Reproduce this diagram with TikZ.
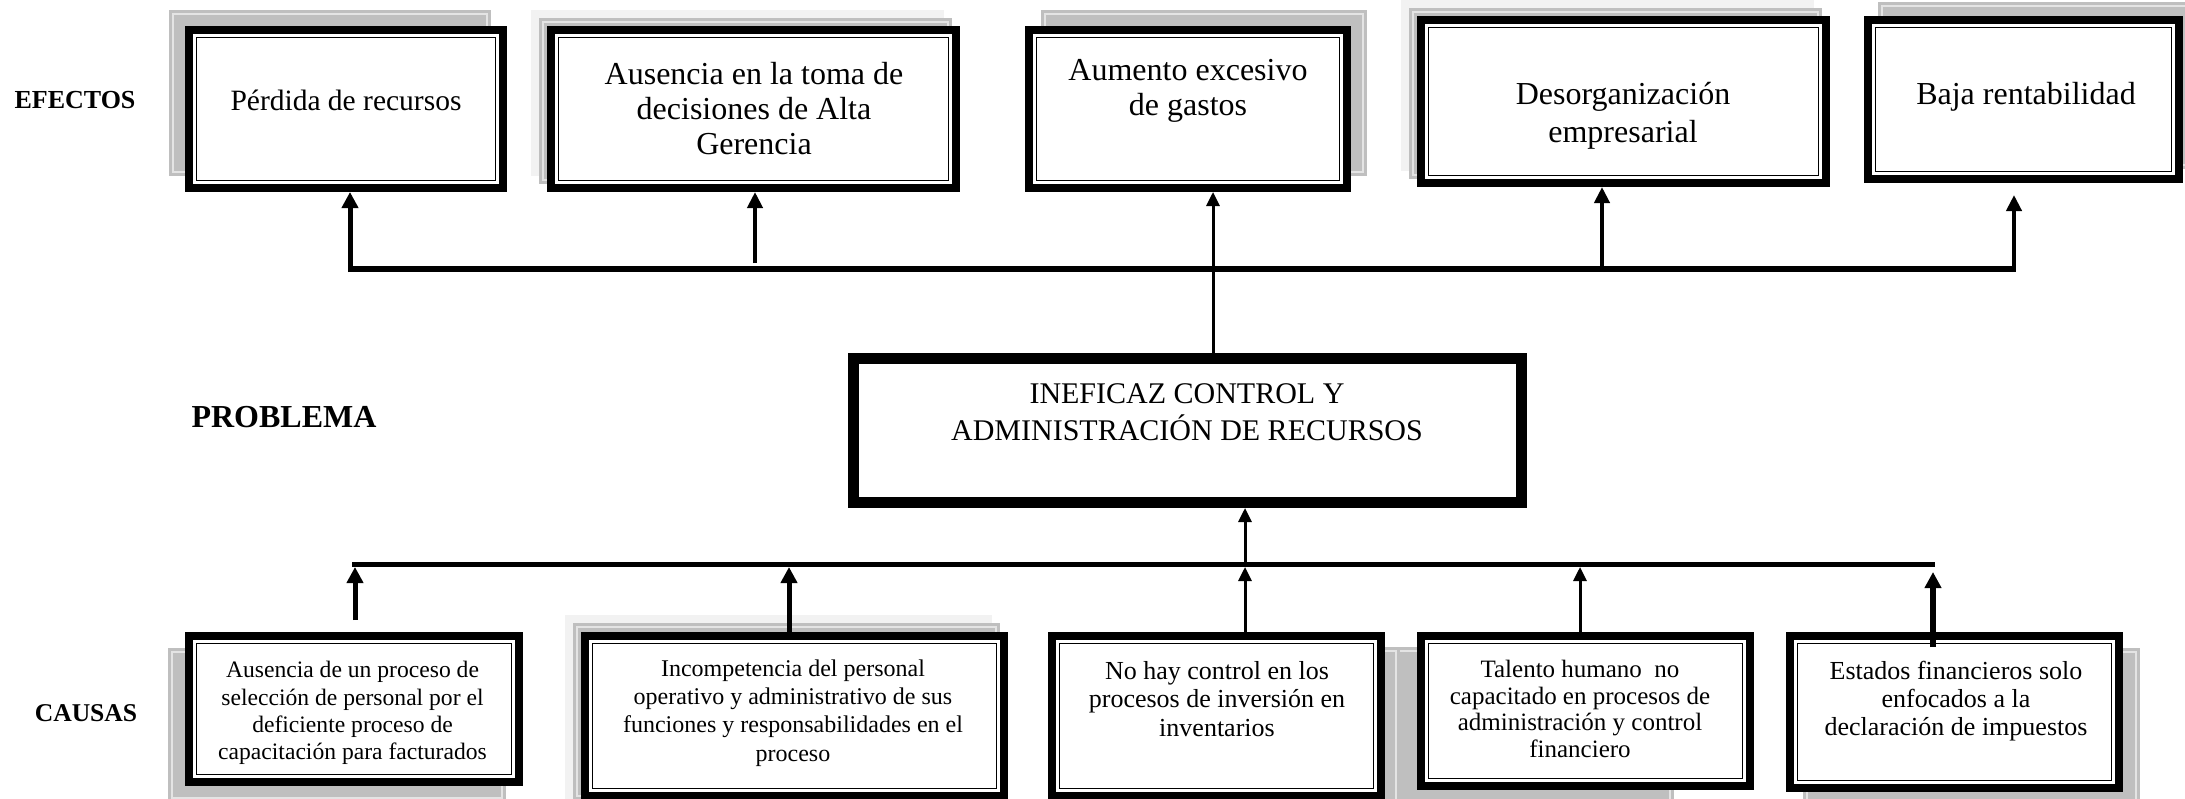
\documentclass[tikz,border=0pt]{standalone}
\usepackage{fontspec}
\setmainfont{Liberation Serif}
\usetikzlibrary{arrows.meta}
\definecolor{shmid}{HTML}{BFBFBF}
\definecolor{shlight}{HTML}{F2F2F2}
\definecolor{shline}{HTML}{E4E4E4}
\newcommand\fs[2]{\fontsize{#1}{#2}\selectfont}
\newcommand\ShadowMid[4]{\fill[shmid] (#1,#2) rectangle (#3,#4);
  \draw[shline,line width=1.2pt] ({#1+4},{#2+4}) rectangle ({#3-4},{#4-4});}
\newcommand\ShadowLight[4]{\fill[shlight] (#1,#2) rectangle (#3,#4);}
\newcommand\DBox[5]{%
  \node[ebox, minimum width={#4-#2-8}, minimum height={#5-#3-8}] (#1) at ({(#2+#4)/2},{(#3+#5)/2}) {};
  \draw[einner] ([xshift=11.5pt,yshift=-11.5pt]#1.north west) rectangle ([xshift=-11.5pt,yshift=11.5pt]#1.south east);}
\tikzset{
  ebox/.style={draw=black, line width=8pt, fill=white, inner sep=0pt, rectangle},
  pbox/.style={draw=black, line width=11pt, fill=white, inner sep=0pt, rectangle},
  einner/.style={draw=black, line width=1.6pt},
  lbl/.style={inner sep=0pt, align=center},
  hline/.style={draw=black, line width=6pt},
  arrthick/.style={draw=black, line width=5pt, -{Triangle[width=16pt,length=16pt]}},
  arrmid/.style={draw=black, line width=4pt, -{Triangle[width=15pt,length=16pt]}},
  arrthin/.style={draw=black, line width=3pt, -{Triangle[width=13pt,length=14pt]}}
}
\begin{document}
\begin{tikzpicture}[x=1pt,y=-1pt]
\path[use as bounding box] (0,0) rectangle (2185,798);
\clip (0,0) rectangle (2185,798);

% ---------- shadows ----------
\ShadowMid{169}{10}{491}{176}
\ShadowLight{531}{10}{944}{176}
\ShadowMid{539}{18}{952}{184}
\ShadowMid{1041}{10}{1367}{176}
\ShadowLight{1401}{0}{1814}{171}
\ShadowMid{1409}{8}{1822}{179}
\ShadowMid{1878}{2}{2197}{169}
\ShadowMid{168}{648}{506}{802}
\ShadowLight{565}{615}{992}{800}
\ShadowMid{573}{623}{1000}{800}
\ShadowMid{1337}{647}{1674}{805}
\ShadowMid{1063}{647}{1400}{815}
\ShadowMid{1803}{648}{2140}{808}

% ---------- effect boxes ----------
\DBox{e1}{185}{26}{507}{192}
\DBox{e2}{547}{26}{960}{192}
\DBox{e3}{1025}{26}{1351}{192}
\DBox{e4}{1417}{16}{1830}{187}
\DBox{e5}{1864}{16}{2183}{183}

% ---------- problem box ----------
\node[pbox, minimum width=668, minimum height=144] (p) at (1187.5,430.5) {};

% ---------- cause boxes ----------
\DBox{c1}{185}{632}{523}{786}
\DBox{c2}{581}{632}{1008}{800}
\DBox{c3}{1048}{632}{1385}{800}
\DBox{c4}{1417}{632}{1754}{790}
\DBox{c5}{1786}{632}{2123}{792}

% ---------- texts ----------
\node[lbl, font=\bfseries\fs{26}{30}] (efectos) at (75,100) {EFECTOS};
\node[lbl, font=\bfseries\fs{32}{36}] (problema) at (284,417) {PROBLEMA};
\node[lbl, font=\bfseries\fs{25.6}{30}] (causas) at (86,713) {CAUSAS};

\node[lbl, font=\fs{29.5}{34}] (e1t) at (346,100) {Pérdida de recursos};
\node[lbl, font=\fs{32}{35}] (e2t) at (754,109) {Ausencia en la toma de\\decisiones de Alta\\Gerencia};
\node[lbl, font=\fs{32}{35}] (e3t) at (1188,91) {Aumento excesivo\\de gastos};
\node[lbl, font=\fs{32}{38}] (e4t) at (1623,116) {Desorganización\\empresarial};
\node[lbl, font=\fs{32}{36}] (e5t) at (2026,97) {Baja rentabilidad};

\node[lbl, font=\fs{30}{37}] (pt) at (1187,412) {INEFICAZ CONTROL Y\\ADMINISTRACIÓN DE RECURSOS};

\node[lbl, font=\fs{23.6}{27.3}] (c1t) at (352.5,713) {Ausencia de un proceso de\\selección de personal por el\\deficiente proceso de\\capacitación para facturados};
\node[lbl, font=\fs{24}{28.3}] (c2t) at (793,713) {Incompetencia del personal\\operativo y administrativo de sus\\funciones y responsabilidades en el\\proceso};
\node[lbl, font=\fs{26}{28.5}] (c3t) at (1217,699) {No hay control en los\\procesos de inversión en\\inventarios};
\node[lbl, font=\fs{25}{26.7}] (c4t) at (1580,709) {Talento humano\ \ no\\capacitado en procesos de\\administración y control\\financiero};
\node[lbl, font=\fs{26}{28}] (c5t) at (1956,701) {Estados financieros solo\\enfocados a la\\declaración de impuestos};

% ---------- upper connectors ----------
\coordinate (L1) at (350,269);
\coordinate (L5) at (2014,269);
\draw[hline] (L1) -- (L5);
\coordinate (a1) at (350,272);
\coordinate (a2) at (755,263);
\coordinate (a3) at (1213,0);
\coordinate (a4) at (1602,269);
\coordinate (a5) at (2014,272);
\coordinate (a5e) at (2014,195);
\draw[arrthick] (a1) -- (a1 |- e1.south);
\draw[arrmid] (a2) -- (a2 |- e2.south);
\draw[arrthin] (a3 |- p.north) -- (a3 |- e3.south);
\draw[arrmid] (a4) -- (a4 |- e4.south);
\draw[arrmid] (a5) -- (a5e);

% ---------- lower connectors ----------
\coordinate (M1) at (352,564);
\coordinate (M5) at (1935,564);
\draw[hline, line width=5pt] (M1) -- (M5);
\coordinate (b1) at (355,620);
\coordinate (b1e) at (355,567);
\coordinate (b2) at (789,0);
\coordinate (b3) at (1245,0);
\coordinate (b4) at (1580,0);
\coordinate (b5) at (1933,647);
\coordinate (b5e) at (1933,572);
\coordinate (mid3) at (1245,564);
\draw[arrthick] (b1) -- (b1e);
\draw[arrthick] (b2 |- c2.north) -- ([yshift=-3pt]b2 |- M1);
\draw[arrthin] (b3 |- c3.north) -- ([yshift=-3pt]b3 |- M1);
\draw[arrthin] (mid3) -- (b3 |- p.south);
\draw[arrthin] (b4 |- c4.north) -- ([yshift=-3pt]b4 |- M1);
\draw[arrthick, line width=6pt] (b5) -- (b5e);
\end{tikzpicture}
\end{document}
